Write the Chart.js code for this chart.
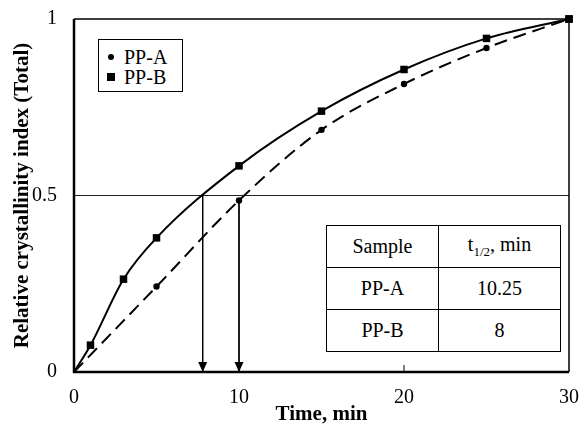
<!DOCTYPE html>
<html>
<head>
<meta charset="utf-8">
<script src="https://cdn.jsdelivr.net/npm/chart.js@4.4.1/dist/chart.umd.min.js"></script>
<style>
  body { margin: 0; background: #fff; }
  #wrap { position: relative; width: 580px; height: 427px; font-family: 'Liberation Serif', 'Times New Roman', serif; }
  #legend { position: absolute; left: 98px; top: 39px; width: 83px; height: 51px; border: 1px solid #000; background: #fff; font-size: 20px; }
  #legend .row { position: absolute; left: 0; height: 20px; line-height: 20px; }
  #legend .mk { position: absolute; background: #000; }
  #legend .txt { position: absolute; left: 25px; top: 0; white-space: nowrap; }
  #tbl { position: absolute; left: 326px; top: 225px; border-collapse: collapse; background: #fff; font-size: 20px; }
  #tbl td { border: 1px solid #000; text-align: center; padding: 0; height: 41px; }
  #tbl td:first-child { width: 111px; }
  #tbl td:last-child { width: 121px; }
  #tbl sub { font-size: 13px; }
</style>
</head>
<body>
<div id="wrap">
  <canvas id="chart" width="580" height="427"></canvas>
  <div id="legend"></div>
  <table id="tbl"></table>
</div>
<script>
// data
const timeA = [0, 5, 10, 15, 20, 25, 30];
const ppA = [0, 0.242, 0.486, 0.686, 0.816, 0.918, 1];
const timeB = [0, 1, 3, 5, 10, 15, 20, 25, 30];
const ppB = [0, 0.076, 0.263, 0.38, 0.584, 0.739, 0.857, 0.945, 1];
const halfLevel = 0.5;
const halfTimes = [7.8, 10];
const arrowTops = [0.5, 0.486];
const xTicks = [0, 10, 20, 30];
const yTicks = [0, 0.5, 1];
const seriesNames = ['PP-A', 'PP-B'];
const tableHead = ['Sample', 't<sub>1/2</sub>, min'];
const tableRows = [['PP-A', '10.25'], ['PP-B', '8']];

const serif = "'Liberation Serif', 'Times New Roman', serif";

function pts(xs, ys) {
    return xs.map((x, i) => ({ x: x, y: ys[i] }));
}

// legend box
const legend = document.getElementById('legend');
seriesNames.forEach((name, i) => {
    const row = document.createElement('div');
    row.className = 'row';
    row.style.top = (7 + i * 20) + 'px';
    const mk = document.createElement('span');
    mk.className = 'mk';
    if (i === 0) {
        mk.style.cssText = 'left:9px;top:7px;width:6px;height:6px;border-radius:3px;';
    } else {
        mk.style.cssText = 'left:8px;top:6px;width:8px;height:8px;';
    }
    const txt = document.createElement('span');
    txt.className = 'txt';
    txt.textContent = name;
    row.appendChild(mk);
    row.appendChild(txt);
    legend.appendChild(row);
});

// inset table
const tbl = document.getElementById('tbl');
[tableHead].concat(tableRows).forEach(r => {
    const tr = document.createElement('tr');
    r.forEach(c => {
        const td = document.createElement('td');
        td.innerHTML = c;
        tr.appendChild(td);
    });
    tbl.appendChild(tr);
});

const arrowSets = halfTimes.map((t, i) => ({
    label: 'arrow' + i,
    data: [{ x: t, y: arrowTops[i] }, { x: t, y: 0 }],
    showLine: true,
    borderColor: '#000',
    borderWidth: 1,
    pointRadius: 0,
    isArrow: true
}));

// frame, inside ticks and arrow heads
const framePlugin = {
    id: 'frame',
    afterDatasetsDraw(chart) {
        const { ctx, chartArea: a, scales } = chart;
        ctx.save();
        ctx.strokeStyle = '#000';
        ctx.lineWidth = 1.5;
        ctx.beginPath();
        ctx.moveTo(a.left, a.top);
        ctx.lineTo(a.right, a.top);
        ctx.lineTo(a.right, a.bottom);
        ctx.stroke();
        ctx.lineWidth = 2.5;
        ctx.beginPath();
        ctx.moveTo(a.left, a.top);
        ctx.lineTo(a.left, a.bottom);
        ctx.lineTo(a.right, a.bottom);
        ctx.stroke();
        ctx.lineWidth = 1;
        xTicks.slice(1, -1).forEach(v => {
            const px = scales.x.getPixelForValue(v);
            ctx.beginPath();
            ctx.moveTo(px, a.bottom);
            ctx.lineTo(px, a.bottom - 7);
            ctx.stroke();
        });
        ctx.fillStyle = '#000';
        chart.data.datasets.forEach(ds => {
            if (!ds.isArrow) return;
            const p = ds.data[1];
            const px = scales.x.getPixelForValue(p.x);
            const py = scales.y.getPixelForValue(p.y);
            ctx.beginPath();
            ctx.moveTo(px, py);
            ctx.lineTo(px - 4.5, py - 10);
            ctx.lineTo(px + 4.5, py - 10);
            ctx.closePath();
            ctx.fill();
        });
        // PP-B square at the top-right corner, drawn over the frame
        const last = chart.getDatasetMeta(1).data[timeB.length - 1];
        ctx.fillRect(last.x - 3.75, last.y - 3.75, 7.5, 7.5);
        ctx.restore();
    }
};

new Chart(document.getElementById('chart'), {
    type: 'scatter',
    data: {
        datasets: [
            {
                label: seriesNames[0],
                data: pts(timeA, ppA),
                showLine: true,
                cubicInterpolationMode: 'monotone',
                borderColor: '#000',
                backgroundColor: '#000',
                borderWidth: 2,
                borderDash: [13, 7],
                pointStyle: 'circle',
                pointRadius: ctx => (ctx.dataIndex === 0 || ctx.dataIndex === timeA.length - 1) ? 0 : 3.2,
                pointBorderWidth: 0
            },
            {
                label: seriesNames[1],
                data: pts(timeB, ppB),
                showLine: true,
                clip: false,
                cubicInterpolationMode: 'monotone',
                borderColor: '#000',
                backgroundColor: '#000',
                borderWidth: 2,
                pointStyle: 'rect',
                pointRadius: ctx => ctx.dataIndex === 0 ? 0 : 5.3,
                pointBorderWidth: 0
            },
            {
                label: 'half',
                data: [{ x: xTicks[0], y: halfLevel }, { x: xTicks[xTicks.length - 1], y: halfLevel }],
                showLine: true,
                borderColor: '#222',
                borderWidth: 1,
                pointRadius: 0
            }
        ].concat(arrowSets)
    },
    options: {
        responsive: false,
        animation: false,
        layout: { padding: { top: 19, right: 11, left: 0, bottom: 0 } },
        plugins: { legend: { display: false }, tooltip: { enabled: false } },
        scales: {
            x: {
                type: 'linear',
                min: 0,
                max: 30,
                afterBuildTicks: s => { s.ticks = xTicks.map(v => ({ value: v })); },
                afterFit: s => { s.height = 55; s.paddingLeft = 0; s.paddingRight = 0; },
                grid: { display: false },
                border: { display: false },
                ticks: { color: '#000', font: { family: serif, size: 20 }, padding: 6, maxRotation: 0, callback: v => String(v) },
                title: {
                    display: true,
                    text: 'Time, min',
                    color: '#000',
                    font: { family: serif, size: 21, weight: 'bold', lineHeight: 1.2 },
                    padding: { top: 0, bottom: 0 }
                }
            },
            y: {
                type: 'linear',
                min: 0,
                max: 1,
                afterBuildTicks: s => { s.ticks = yTicks.map(v => ({ value: v })); },
                afterFit: s => { s.width = 74; s.paddingTop = 0; s.paddingBottom = 0; },
                grid: { display: false },
                border: { display: false },
                ticks: { color: '#000', font: { family: serif, size: 20 }, padding: 9, callback: v => String(v) },
                title: {
                    display: true,
                    text: 'Relative crystallinity index (Total)',
                    color: '#000',
                    font: { family: serif, size: 21, weight: 'bold', lineHeight: 1.2 },
                    padding: { top: 10, bottom: 0 }
                }
            }
        }
    },
    plugins: [framePlugin]
});
</script>
</body>
</html>
